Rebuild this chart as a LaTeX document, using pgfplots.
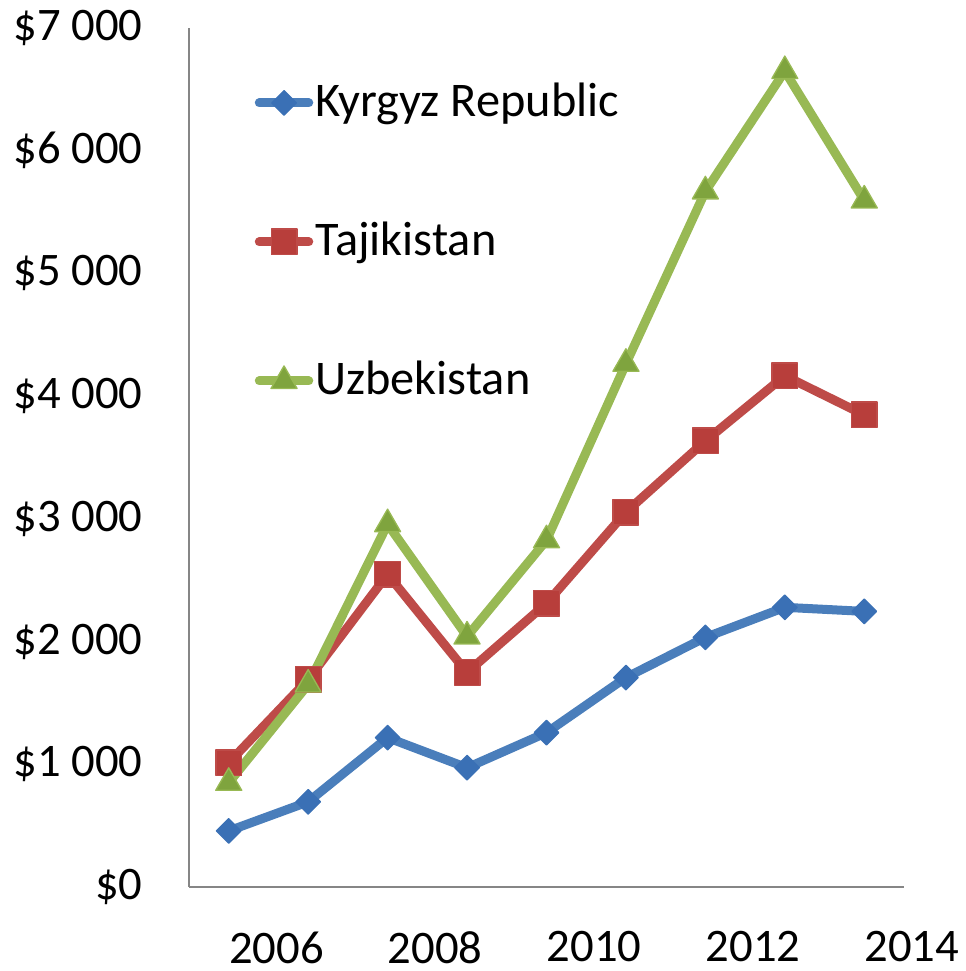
\documentclass[border=0pt]{standalone}
\usepackage{fontspec}
\setmainfont{Carlito}
\usepackage{pgfplots}
\pgfplotsset{compat=1.18}
\definecolor{kline}{HTML}{4A7EBB}
\definecolor{kmark}{HTML}{3A70B5}
\definecolor{tline}{HTML}{BE4B48}
\definecolor{tmark}{HTML}{B83E3B}
\definecolor{uline}{HTML}{98B954}
\definecolor{umark}{HTML}{7FA43E}
\definecolor{axgray}{HTML}{868686}
\begin{document}
\begin{tikzpicture}[font=\fontsize{14}{17}\selectfont]
\useasboundingbox (-56.7pt,-25.2pt) rectangle (232.8pt,266.1pt);
\begin{axis}[
  at={(0,0)}, anchor=south west,
  scale only axis, width=214.5pt, height=257.7pt,
  xmin=-0.5, xmax=8.5, ymin=0, ymax=7000,
  axis x line*=bottom, axis y line*=left,
  axis line style={-, draw=axgray, line width=0.6pt},
  major tick length=0pt,
  xtick={0,2,4,6,8},
  xticklabels={2006,2008,2010,2012,2014},
  ytick={0,1000,2000,3000,4000,5000,6000,7000},
  yticklabels={\$0,\$1 000,\$2 000,\$3 000,\$4 000,\$5 000,\$6 000,\$7 000},
  xticklabel style={anchor=north, inner sep=0pt, xshift=14.3pt, yshift=-13.2pt},
  yticklabel style={anchor=east, inner sep=0pt, xshift=-13.8pt},
  clip=false,
  every axis plot/.append style={line width=2.7pt, line join=round},
  legend cell align=left,
  legend style={draw=none, fill=none, inner sep=0pt, outer sep=0pt,
    at={(rel axis cs:0.0920,0.938)}, anchor=north west,
    row sep=28.7pt, column sep=0.6pt,
    nodes={inner sep=0pt, outer sep=0pt, text height=10.5pt, text depth=2.5pt},
    font=\fontsize{14.5}{17}\selectfont},
  legend image code/.code={
    \draw[#1, line cap=round] (0pt,0pt) -- (14.85pt,0pt);
    \draw[#1, only marks] plot coordinates {(7.43pt,0pt)};
  },
]
\addplot[color=kline, mark=square*, mark size=2.6pt,
  mark options={rotate=45, fill=kmark, draw=kmark, line width=0.4pt}]
  coordinates {(0,457) (1,694) (2,1217) (3,972) (4,1258) (5,1707) (6,2034) (7,2279) (8,2246)};
\addlegendentry{Kyrgyz Republic}
\addplot[color=tline, mark=square*, mark size=3.85pt,
  mark options={fill=tmark, draw=tline, line width=0.4pt}]
  coordinates {(0,1013) (1,1691) (2,2548) (3,1748) (4,2312) (5,3055) (6,3635) (7,4166) (8,3847)};
\addlegendentry{Tajikistan}
\addplot[color=uline, mark=triangle*, mark size=4.5pt,
  mark options={fill=umark, draw=uline, line width=0.4pt}]
  coordinates {(0,849) (1,1650) (2,2957) (3,2042) (4,2826) (5,4264) (6,5669) (7,6649) (8,5595)};
\addlegendentry{Uzbekistan}
\end{axis}
\end{tikzpicture}
\end{document}
